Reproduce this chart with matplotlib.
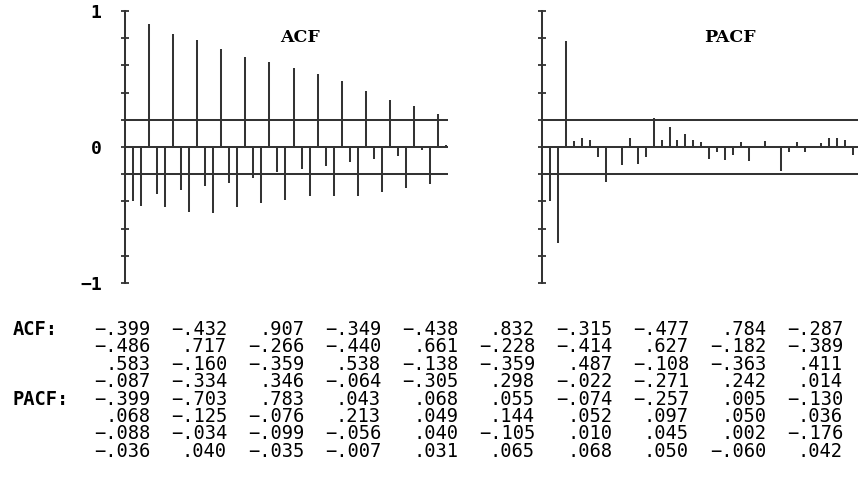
import matplotlib
matplotlib.use("Agg")
import matplotlib.pyplot as plt
import numpy as np

acf = [-.399, -.432, .907, -.349, -.438, .832, -.315, -.477, .784, -.287,
       -.486, .717, -.266, -.440, .661, -.228, -.414, .627, -.182, -.389,
       .583, -.160, -.359, .538, -.138, -.359, .487, -.108, -.363, .411,
       -.087, -.334, .346, -.064, -.305, .298, -.022, -.271, .242, .014]
pacf = [-.399, -.703, .783, .043, .068, .055, -.074, -.257, .005, -.130,
        .068, -.125, -.076, .213, .049, .144, .052, .097, .050, .036,
        -.088, -.034, -.099, -.056, .040, -.105, .010, .045, .002, -.176,
        -.036, .040, -.035, -.007, .031, .065, .068, .050, -.060, .042]
conf = 0.2
lags = np.arange(1, len(acf) + 1)

W, H = 858, 501
fig = plt.figure(figsize=(W / 100, H / 100), dpi=100)
col = '#333333'
lw = 1.45

def px_axes(left, right, top, bottom):
    return fig.add_axes([left / W, 1 - bottom / H, (right - left) / W, (bottom - top) / H])

def setup(ax, vals, title, tx, xmax, labels):
    ax.set_xlim(0, xmax)
    ax.set_ylim(-1, 1)
    for s in ['top', 'right', 'bottom']:
        ax.spines[s].set_visible(False)
    ax.spines['left'].set_color(col)
    ax.spines['left'].set_linewidth(lw)
    ax.set_xticks([])
    ax.set_yticks(np.linspace(-1, 1, 11))
    ax.tick_params(axis='y', direction='inout', length=6, width=1.3, color=col)
    if labels:
        lab = ['' for _ in range(11)]
        lab[0], lab[5], lab[10] = '\u22121', '0', '1'
        ax.set_yticklabels(lab, fontfamily='DejaVu Sans Mono', fontweight='bold',
                           fontsize=13, color='black')
        ax.tick_params(axis='y', pad=14)
    else:
        ax.set_yticklabels([])
    for y in (0, conf, -conf):
        ax.axhline(y, color=col, lw=lw)
    ax.vlines(lags, 0, vals, color=col, lw=lw)
    ax.patch.set_visible(False)
    fig.text(tx / W, 1 - 37 / H, title, ha='center', va='center',
             fontfamily='DejaVu Serif', fontweight='bold', fontsize=12.5)

ax1 = px_axes(125.3, 125.3 + 8.01 * 40.25, 11, 283)
setup(ax1, acf, 'ACF', 300, 40.25, True)
ax2 = px_axes(542, 858, 11, 283)
setup(ax2, pacf, 'PACF', 730, (858 - 542) / 7.97, False)

def fmt(v):
    s = '%.3f' % abs(v)
    s = s[1:]
    return ('\u2212' if v < 0 else '') + s

rows = []
for name, vals in (('ACF:', acf), ('PACF:', pacf)):
    for r in range(4):
        rows.append((name if r == 0 else '', vals[r * 10:(r + 1) * 10]))

for i, (name, vals) in enumerate(rows):
    yb = 335 + 17.4 * i
    if name:
        fig.text(13 / W, 1 - yb / H, name, ha='left', va='baseline',
                 fontfamily='DejaVu Sans Mono', fontweight='bold', fontsize=13.5)
    for j, v in enumerate(vals):
        xr = 150 + 77.0 * j
        fig.text(xr / W, 1 - yb / H, fmt(v), ha='right', va='baseline',
                 fontfamily='DejaVu Sans Mono', fontsize=13.5)

fig.savefig('out.png', dpi=100)
